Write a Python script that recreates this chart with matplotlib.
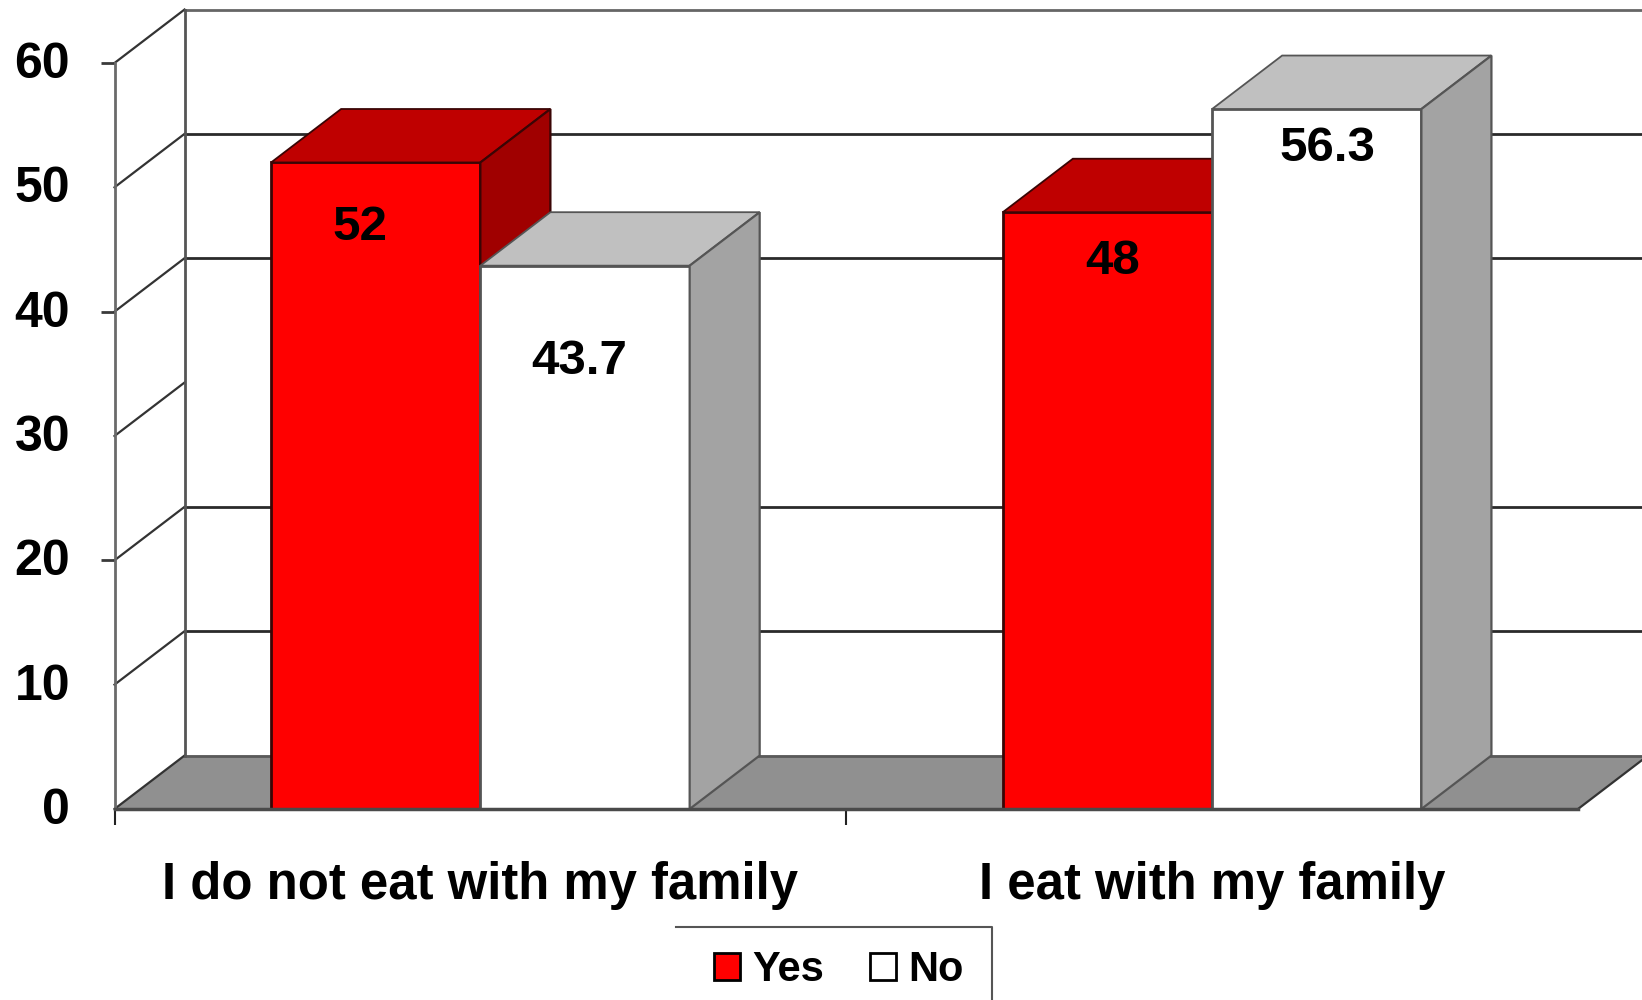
import matplotlib
matplotlib.use("Agg")
import matplotlib.pyplot as plt
from matplotlib.lines import Line2D
from matplotlib.patches import Patch
from matplotlib.transforms import ScaledTranslation

plt.rcParams['font.family'] = ['Liberation Sans', 'DejaVu Sans']
plt.rcParams['font.weight'] = 'bold'

categories = ["I do not eat with my family", "I eat with my family"]
yes_values = [52, 48]
no_values = [43.7, 56.3]
yes_labels = ["52", "48"]
no_labels = ["43.7", "56.3"]
y_ticks = [0, 10, 20, 30, 40, 50, 60]
marked_ticks = [20, 40, 60]
wall_lines = [0, 10, 20, 40, 50, 60]  # the 30 line is missing in the original

# chart depth in data units, like the old excel 3d bars
dx = 0.0957
dy = 4.3
width = 0.286

fig = plt.figure(figsize=(16.42, 10), dpi=100)
ax = fig.add_axes([114.5 / 1642, 191 / 1000, 1463.5 / 1642, 746 / 1000])
ax.set_xlim(-0.5, 1.5)
ax.set_ylim(0, 60)

x0, x1 = -0.5, 1.5

# back wall and floor
ax.fill([x0, x1, x1 + dx, x0 + dx], [0, 0, dy, dy], color='#909090', lw=0, zorder=1, clip_on=False)
for t in wall_lines:
    if t == 60:
        c = '#666666'
    elif t == 0:
        c = '#5a5a5a'
    else:
        c = '#2a2a2a'
    ax.plot([x0 + dx, x1 + dx], [t + dy, t + dy], color=c, lw=2, zorder=1.5, clip_on=False)
for t in y_ticks:
    ax.plot([x0, x0 + dx], [t, t + dy], color='#333333', lw=1.6, zorder=1.5, clip_on=False)
ax.plot([x0 + dx, x0 + dx], [0 + dy, 60 + dy], color='#555555', lw=2, zorder=1.5, clip_on=False)
ax.plot([x1, x1 + dx], [0, dy], color='#333333', lw=1.6, zorder=1.5, clip_on=False)


def bar_3d(x, h, front, top, side, edge, z):
    ax.bar(x, h, width, color=front, edgecolor=edge, lw=2, zorder=z, align='edge', clip_on=False)
    ax.fill([x, x + width, x + width + dx, x + dx], [h, h, h + dy, h + dy],
            facecolor=top, edgecolor=edge, lw=1.3, zorder=z, clip_on=False)
    ax.fill([x + width, x + width + dx, x + width + dx, x + width], [0, dy, h + dy, h],
            facecolor=side, edgecolor=edge, lw=1.6, zorder=z, clip_on=False)


for i in range(len(categories)):
    bar_3d(i - width, yes_values[i], '#ff0000', '#bf0000', '#a00000', '#3a0505', 3 + i * 2)
    bar_3d(i, no_values[i], '#ffffff', '#c0c0c0', '#a3a3a3', '#555555', 4 + i * 2)

# value labels were placed by hand in the original
yes_off = [(-0.021, 65), (0.007, 49)]
no_off = [(-0.008, 96), (0.015, 39)]
for i in range(len(categories)):
    ax.annotate(yes_labels[i], (i - width / 2 + yes_off[i][0], yes_values[i]), xytext=(0, -yes_off[i][1] * 0.72),
                textcoords='offset points', ha='center', va='center', fontsize=35.5, zorder=10)
    ax.annotate(no_labels[i], (i + width / 2 + no_off[i][0], no_values[i]), xytext=(0, -no_off[i][1] * 0.72),
                textcoords='offset points', ha='center', va='center', fontsize=35.5, zorder=10)

for s in ['top', 'right']:
    ax.spines[s].set_visible(False)
ax.spines['left'].set_color('#6a6a6a')
ax.spines['left'].set_linewidth(2)
ax.spines['bottom'].set_color('#4a4a4a')
ax.spines['bottom'].set_linewidth(2.5)
ax.spines['bottom'].set_zorder(20)

ax.set_yticks(y_ticks)
ax.tick_params(axis='y', length=0, pad=32, labelsize=36)
ax.yaxis.remove_overlapping_locs = False
ax.set_yticks(marked_ticks, minor=True)
ax.tick_params(axis='y', which='minor', length=10, width=2, color='#3a3a3a', labelleft=False)
for lab in ax.get_yticklabels():
    lab.set_transform(lab.get_transform() + ScaledTranslation(0, 2.2 / 72, fig.dpi_scale_trans))
ax.set_xticks([0, 1], categories)
ax.tick_params(axis='x', length=0, pad=37.5, labelsize=36.6)
ax.set_xticks([-0.5, 0.5], minor=True)
ax.tick_params(axis='x', which='minor', length=11.5, width=1.5, color='#222222')

# legend box runs off the bottom of the picture
handles = [Patch(facecolor='#ff0000', edgecolor='black', lw=2), Patch(facecolor='white', edgecolor='black', lw=2)]
fig.legend(handles, ['Yes', 'No'], ncol=2, frameon=False, loc='center', bbox_to_anchor=(839 / 1642, 30 / 1000),
           handlelength=0.62, handleheight=0.62, handletextpad=0.3, columnspacing=1.1,
           prop={'weight': 'bold', 'size': 30})
fig.add_artist(Line2D([676 / 1642, 992 / 1642, 992 / 1642], [73 / 1000, 73 / 1000, 0], color='#555555', lw=1.5))

fig.savefig('out.png', dpi=100)
